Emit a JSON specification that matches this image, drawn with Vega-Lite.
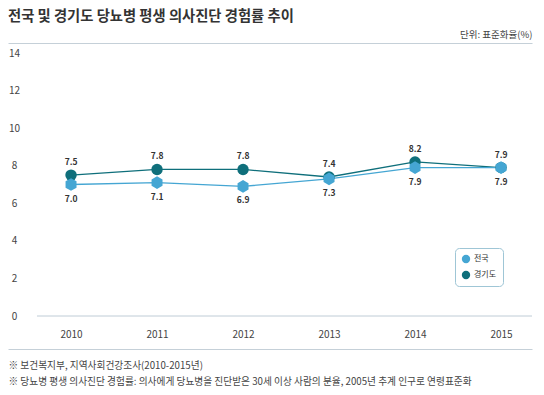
{
  "$schema": "https://vega.github.io/schema/vega-lite/v6.json",
  "autosize": {"type": "none"},
  "width": 524,
  "height": 263,
  "padding": {"left": 8, "top": 53, "right": 12, "bottom": 79},
  "background": "white",
  "config": {
    "font": "Noto Sans CJK KR",
    "view": {"stroke": null},
    "title": {"font": "Noto Sans CJK KR"},
    "axisY": {
      "values": [0, 2, 4, 6, 8, 10, 12, 14],
      "domain": false,
      "ticks": false,
      "grid": false,
      "labelAlign": "center",
      "labelBaseline": "middle",
      "labelPadding": -6,
      "labelFontSize": 10,
      "labelColor": "#444444",
      "title": null
    }
  },
  "title": {
    "text": "전국 및 경기도 당뇨병 평생 의사진단 경험률 추이",
    "anchor": "start",
    "frame": "group",
    "fontSize": 14.3,
    "fontWeight": "bold",
    "color": "#333333",
    "offset": 5
  },
  "data": {
    "values": [
      {"year": 2010, "series": "경기도", "value": 7.5},
      {"year": 2011, "series": "경기도", "value": 7.8},
      {"year": 2012, "series": "경기도", "value": 7.8},
      {"year": 2013, "series": "경기도", "value": 7.4},
      {"year": 2014, "series": "경기도", "value": 8.2},
      {"year": 2015, "series": "경기도", "value": 7.9},
      {"year": 2010, "series": "전국", "value": 7.0},
      {"year": 2011, "series": "전국", "value": 7.1},
      {"year": 2012, "series": "전국", "value": 6.9},
      {"year": 2013, "series": "전국", "value": 7.3},
      {"year": 2014, "series": "전국", "value": 7.9},
      {"year": 2015, "series": "전국", "value": 7.9}
    ]
  },
  "resolve": {"axis": {"x": "independent"}},
  "layer": [
    {
      "data": {"values": [{}]},
      "mark": {"type": "rule", "color": "#bfccd6", "strokeWidth": 1},
      "encoding": {
        "x": {
          "datum": 2009.604,
          "type": "quantitative",
          "scale": {"domain": [2009.267, 2015.36], "nice": false, "zero": false},
          "axis": {
            "orient": "top",
            "offset": 10,
            "domain": true,
            "domainColor": "#c5d0d8",
            "domainWidth": 1,
            "ticks": false,
            "labels": false,
            "grid": false,
            "title": "단위: 표준화율(%)",
            "titleAnchor": "end",
            "titleAlign": "right",
            "titleBaseline": "bottom",
            "titleFontSize": 9.5,
            "titleFontWeight": "normal",
            "titleColor": "#444444",
            "titlePadding": 4
          }
        },
        "x2": {"datum": 2015.36},
        "y": {"datum": 0, "type": "quantitative", "scale": {"domain": [0, 14], "nice": false}}
      }
    },
    {
      "transform": [{"filter": "datum.series === '경기도'"}],
      "mark": {"type": "line", "strokeWidth": 1.3, "color": "#0f6f7b"},
      "encoding": {
        "x": {
          "field": "year",
          "type": "quantitative",
          "axis": {
            "orient": "bottom",
            "offset": 33,
            "values": [2010, 2011, 2012, 2013, 2014, 2015],
            "format": "d",
            "domain": true,
            "domainColor": "#c5d0d8",
            "ticks": false,
            "grid": false,
            "labelPadding": -15,
            "labelBaseline": "middle",
            "labelFontSize": 10,
            "labelColor": "#444444",
            "title": [
              "※ 보건복지부, 지역사회건강조사(2010-2015년)",
              "※ 당뇨병 평생 의사진단 경험률: 의사에게 당뇨병을 진단받은 30세 이상 사람의 분율, 2005년 추계 인구로 연령표준화"
            ],
            "titleAnchor": "start",
            "titleAlign": "left",
            "titleBaseline": "top",
            "titleX": 0,
            "titleY": 11,
            "titleFontSize": 9.7,
            "titleFontWeight": "normal",
            "titleColor": "#444444",
            "titleLineHeight": 16
          }
        },
        "y": {"field": "value", "type": "quantitative"}
      }
    },
    {
      "transform": [{"filter": "datum.series === '전국'"}],
      "mark": {"type": "line", "strokeWidth": 1.3, "color": "#45a6d3"},
      "encoding": {
        "x": {"field": "year", "type": "quantitative", "axis": null},
        "y": {"field": "value", "type": "quantitative"}
      }
    },
    {
      "transform": [{"filter": "datum.series === '경기도'"}],
      "mark": {"type": "point", "filled": true, "opacity": 1, "size": 130, "shape": "circle"},
      "encoding": {
        "x": {"field": "year", "type": "quantitative", "axis": null},
        "y": {"field": "value", "type": "quantitative"},
        "color": {
          "field": "series",
          "type": "nominal",
          "scale": {"domain": ["전국", "경기도"], "range": ["#45a6d3", "#0f6f7b"]},
          "legend": {
            "title": null,
            "orient": "none",
            "legendX": 447,
            "legendY": 195,
            "symbolType": "circle",
            "symbolSize": 70,
            "labelFontSize": 8,
            "labelColor": "#333333",
            "strokeColor": "#9fc6d6",
            "fillColor": "white",
            "cornerRadius": 4,
            "padding": 6,
            "rowPadding": 6,
            "labelOffset": 3
          }
        }
      }
    },
    {
      "transform": [{"filter": "datum.series === '전국'"}],
      "mark": {"type": "point", "filled": true, "opacity": 1, "size": 160, "shape": "M0,-1L0.866,-0.5L0.866,0.5L0,1L-0.866,0.5L-0.866,-0.5Z"},
      "encoding": {
        "x": {"field": "year", "type": "quantitative", "axis": null},
        "y": {"field": "value", "type": "quantitative"},
        "color": {"field": "series", "type": "nominal"}
      }
    },
    {
      "transform": [{"filter": "datum.series === '경기도'"}],
      "mark": {"type": "text", "dy": -13, "fontSize": 8.5, "fontWeight": "bold", "color": "#333333"},
      "encoding": {
        "x": {"field": "year", "type": "quantitative", "axis": null},
        "y": {"field": "value", "type": "quantitative"},
        "text": {"field": "value", "type": "quantitative", "format": ".1f"}
      }
    },
    {
      "transform": [{"filter": "datum.series === '전국'"}],
      "mark": {"type": "text", "dy": 14, "fontSize": 8.5, "fontWeight": "bold", "color": "#333333"},
      "encoding": {
        "x": {"field": "year", "type": "quantitative", "axis": null},
        "y": {"field": "value", "type": "quantitative"},
        "text": {"field": "value", "type": "quantitative", "format": ".1f"}
      }
    }
  ]
}
